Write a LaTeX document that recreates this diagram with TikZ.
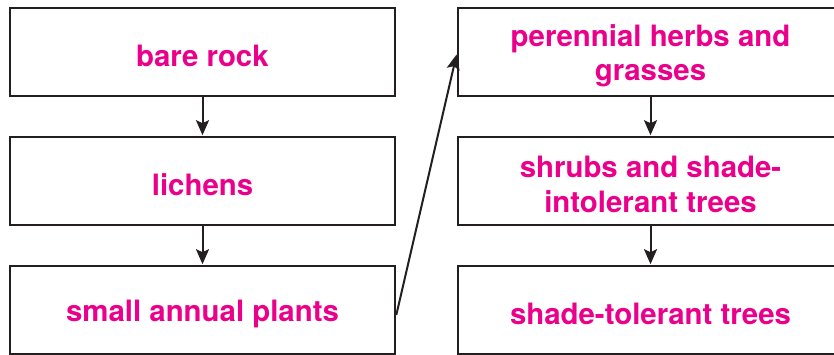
\documentclass[tikz,border=0pt]{standalone}
\usepackage{fontspec}
\setmainfont{TeX Gyre Heros}
\usetikzlibrary{arrows.meta}
\definecolor{mag}{RGB}{234,0,139}
\definecolor{ink}{RGB}{35,31,32}
\begin{document}
\begin{tikzpicture}[x=1pt,y=-1pt,
  stage/.style={draw=ink,line width=2.6pt,fill=white,minimum width=385pt,minimum height=88pt,inner sep=0pt},
  lbl/.style={inner sep=0pt,align=center,text=mag,yshift=-3.5pt,font=\bfseries\fontsize{29.4}{34.5}\selectfont},
  flow/.style={draw=ink,line width=2pt,-{Stealth[length=15pt,width=13pt,inset=3pt]},shorten >=0.5pt}]
\useasboundingbox (0,0) rectangle (834,354);
\node[stage,label={[lbl]center:bare rock}] (rock) at (202.5,52) {};
\node[stage,label={[lbl]center:lichens}] (lich) at (202.5,181) {};
\node[stage,label={[lbl]center:small annual plants}] (annual) at (202.5,310) {};
\node[stage,label={[lbl]center:perennial herbs and\\grasses}] (herbs) at (650.5,52) {};
\node[stage,label={[lbl]center:shrubs and shade-\\intolerant trees}] (shrubs) at (650.5,181) {};
\node[stage,label={[lbl]center:shade-tolerant trees}] (tol) at (650.5,310) {};
\draw[flow] (rock) -- (lich);
\draw[flow] (lich) -- (annual);
\draw[flow] (herbs) -- (shrubs);
\draw[flow] (shrubs) -- (tol);
\draw[flow] ([yshift=-5pt]annual.east) -- ([yshift=-2pt]herbs.west);
\end{tikzpicture}
\end{document}
